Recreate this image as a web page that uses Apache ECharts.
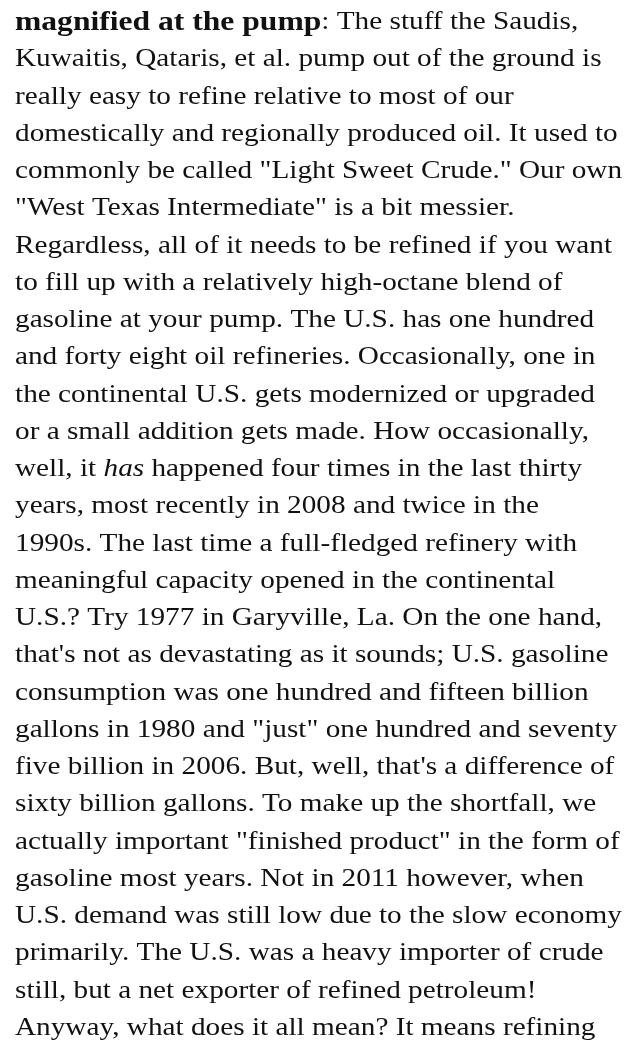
<!DOCTYPE html>
<html>
<head>
<meta charset="utf-8">
<script src="https://cdn.jsdelivr.net/npm/echarts@6/dist/echarts.min.js"></script>
<style>
  html, body { margin: 0; padding: 0; background: #fff; }
  #main { width: 624px; height: 1042px; }
</style>
</head>
<body>
<div id="main"></div>
<script>
// paragraph lines, as wrapped in the reference ({b|..} bold, {i|..} italic)
var paragraphLines = [
  '{b|magnified at the pump}: The stuff the Saudis,',
  'Kuwaitis, Qataris, et al. pump out of the ground is',
  'really easy to refine relative to most of our',
  'domestically and regionally produced oil. It used to',
  'commonly be called "Light Sweet Crude." Our own',
  '"West Texas Intermediate" is a bit messier.',
  'Regardless, all of it needs to be refined if you want',
  'to fill up with a relatively high-octane blend of',
  'gasoline at your pump. The U.S. has one hundred',
  'and forty eight oil refineries. Occasionally, one in',
  'the continental U.S. gets modernized or upgraded',
  'or a small addition gets made. How occasionally,',
  'well, it {i|has} happened four times in the last thirty',
  'years, most recently in 2008 and twice in the',
  '1990s. The last time a full-fledged refinery with',
  'meaningful capacity opened in the continental',
  'U.S.? Try 1977 in Garyville, La. On the one hand,',
  "that's not as devastating as it sounds; U.S. gasoline",
  'consumption was one hundred and fifteen billion',
  'gallons in 1980 and "just" one hundred and seventy',
  "five billion in 2006. But, well, that's a difference of",
  'sixty billion gallons. To make up the shortfall, we',
  'actually important "finished product" in the form of',
  'gasoline most years. Not in 2011 however, when',
  'U.S. demand was still low due to the slow economy',
  'primarily. The U.S. was a heavy importer of crude',
  'still, but a net exporter of refined petroleum!',
  'Anyway, what does it all mean? It means refining'
];

var fontFamily = '"Liberation Serif", "DejaVu Serif", serif';
var fontSize = 25;
var boldSize = 27;    // Georgia bold runs wider than Times bold
var stretch = 1.17;   // widen the Times-like face toward the wider Georgia look
var lineH = 37.25;
var textColor = '#111';

var chart = echarts.init(document.getElementById('main'));

var elements = paragraphLines.map(function (line, i) {
  return {
    type: 'text',
    x: 15,
    y: 4 + i * lineH,
    scaleX: stretch,
    style: {
      text: line,
      fontFamily: fontFamily,
      fontSize: fontSize,
      fill: textColor,
      verticalAlign: 'top',
      lineHeight: lineH,
      rich: {
        b: { fontFamily: fontFamily, fontSize: boldSize, fontWeight: 'bold', fill: textColor, lineHeight: lineH },
        i: { fontFamily: fontFamily, fontSize: fontSize, fontStyle: 'italic', fill: textColor, lineHeight: lineH }
      }
    }
  };
});

chart.setOption({
  backgroundColor: '#fff',
  animation: false,
  graphic: { elements: elements }
});
</script>
</body>
</html>
